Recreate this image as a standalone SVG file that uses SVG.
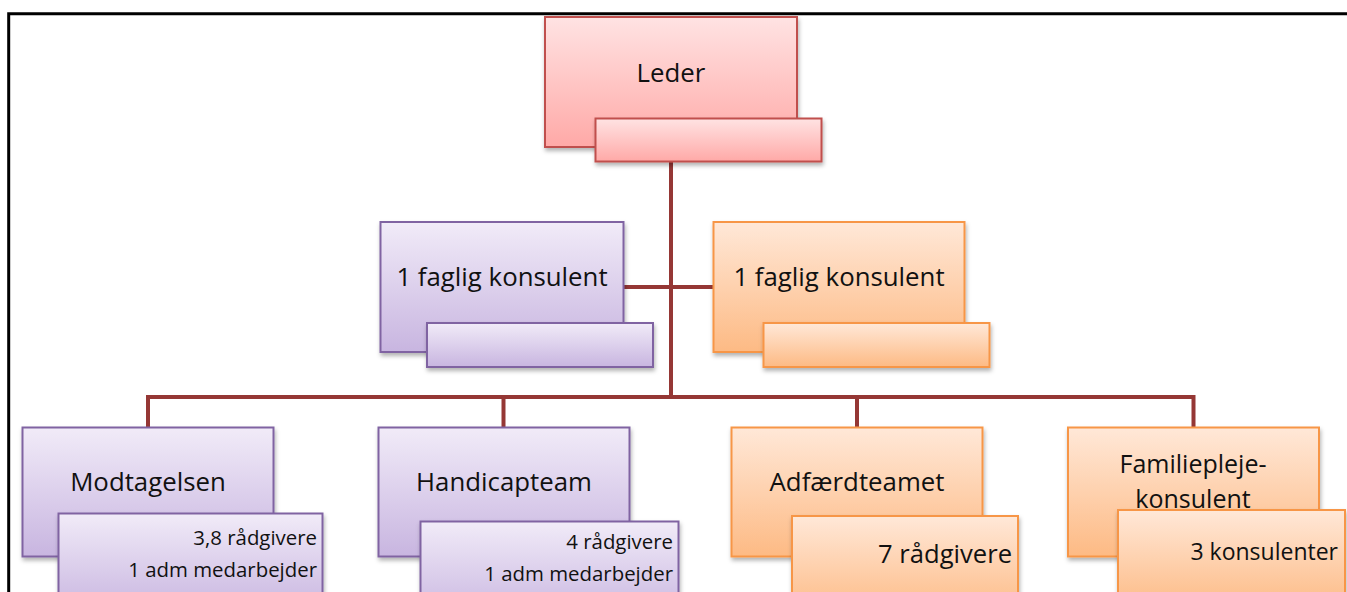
<svg xmlns="http://www.w3.org/2000/svg" width="1347" height="592" viewBox="0 0 1347 592">
<style>
text{font-family:"Open Sans",Lato,"Liberation Sans",sans-serif;fill:#111;}
.m{font-size:25.8px;text-anchor:middle;}
.s{font-size:20.4px;text-anchor:end;}
.sl{font-size:25px;text-anchor:end;}
.red{fill:url(#gR);stroke:#c0504d;stroke-width:2;filter:url(#sh);}
.pur{fill:url(#gP);stroke:#8064a2;stroke-width:2;filter:url(#sh);}
.ora{fill:url(#gO);stroke:#f79646;stroke-width:2;filter:url(#sh);}
.c{stroke:#953735;stroke-width:4;fill:none;}
</style>
<defs>
<linearGradient id="gR" x1="0" y1="0" x2="0" y2="1"><stop offset="0" stop-color="#ffe3e3"/><stop offset="1" stop-color="#ffa9a7"/></linearGradient>
<linearGradient id="gP" x1="0" y1="0" x2="0" y2="1"><stop offset="0" stop-color="#f1ebf8"/><stop offset="1" stop-color="#c8b5e0"/></linearGradient>
<linearGradient id="gO" x1="0" y1="0" x2="0" y2="1"><stop offset="0" stop-color="#ffe8d8"/><stop offset="1" stop-color="#fdba84"/></linearGradient>
<filter id="sh" x="-10%" y="-10%" width="130%" height="140%"><feDropShadow dx="1" dy="3" stdDeviation="2" flood-color="#000" flood-opacity="0.3"/></filter>
</defs>
<rect width="1347" height="592" fill="#fff"/>
<path d="M8.7,600 V13.7 H1350" stroke="#000" stroke-width="3" fill="none"/>
<g id="connectors">
<path class="c" d="M671,162 V397"/>
<path class="c" d="M624,287 H713"/>
<path class="c" d="M148,427 V397 H1193.5 V427"/>
<path class="c" d="M503.5,397 V427"/>
<path class="c" d="M857,397 V427"/>
</g>
<g id="leder">
<rect class="red" x="545" y="17" width="252" height="130"/>
<rect class="red" x="595.5" y="118.5" width="226" height="43"/>
<text class="m" x="671" y="82">Leder</text>
</g>
<g id="konsulent-left">
<rect class="pur" x="380.5" y="222" width="243" height="130"/>
<rect class="pur" x="427" y="323" width="226" height="44"/>
<text class="m" x="502" y="286">1 faglig konsulent</text>
</g>
<g id="konsulent-right">
<rect class="ora" x="713.5" y="222" width="251" height="130"/>
<rect class="ora" x="763.5" y="323" width="226" height="44"/>
<text class="m" x="839" y="286">1 faglig konsulent</text>
</g>
<g id="modtagelsen">
<rect class="pur" x="22.5" y="427.5" width="251" height="129"/>
<rect class="pur" x="58.5" y="513.5" width="264" height="100"/>
<text class="m" x="148" y="491">Modtagelsen</text>
<text class="s" x="317" y="545">3,8 rådgivere</text>
<text class="s" x="317" y="577">1 adm medarbejder</text>
</g>
<g id="handicapteam">
<rect class="pur" x="378.5" y="427.5" width="251" height="129"/>
<rect class="pur" x="420.5" y="521.5" width="258" height="100"/>
<text class="m" x="504" y="491">Handicapteam</text>
<text class="s" x="673" y="549">4 rådgivere</text>
<text class="s" x="673" y="581">1 adm medarbejder</text>
</g>
<g id="adfaerdteamet">
<rect class="ora" x="731.5" y="427.5" width="251" height="129"/>
<rect class="ora" x="792" y="516" width="226" height="100"/>
<text class="m" x="857" y="491">Adfærdteamet</text>
<text class="sl" x="1012" y="563" style="font-size:25.6px">7 rådgivere</text>
</g>
<g id="familiepleje">
<rect class="ora" x="1068" y="427.5" width="251" height="129"/>
<rect class="ora" x="1118" y="510" width="227" height="100"/>
<text class="m" x="1193" y="473" style="font-size:25px">Familiepleje-</text>
<text class="m" x="1193" y="507.5" style="font-size:25px">konsulent</text>
<text class="sl" x="1338" y="560" style="font-size:23px">3 konsulenter</text>
</g>
</svg>
